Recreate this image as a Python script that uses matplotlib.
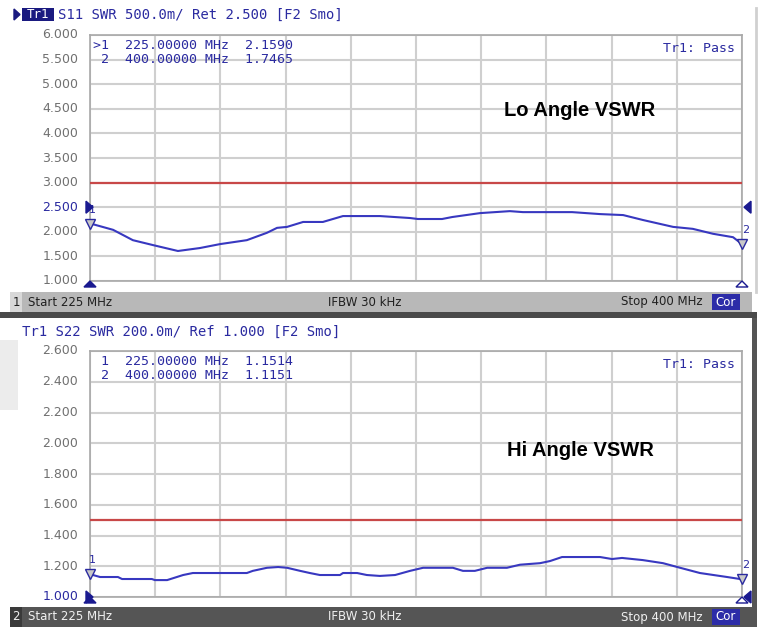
import matplotlib
matplotlib.use('Agg')
import matplotlib.pyplot as plt
from matplotlib.patches import Rectangle, Polygon

# Dados (frequência em MHz, VSWR)
freq_lo = [225.0, 225.5, 231.2, 236.5, 241.9, 248.6, 254.5, 259.9, 267.1, 272.5,
           275.2, 277.9, 282.2, 287.5, 292.9, 302.8, 310.9, 313.0, 319.5, 322.2,
           329.7, 337.7, 341.2, 354.4, 361.9, 368.1, 373.4, 381.5, 386.8, 392.2,
           397.6, 400.0]
vswr_lo = [2.16, 2.16, 2.04, 1.83, 1.73, 1.61, 1.67, 1.75, 1.83, 1.98,
           2.08, 2.10, 2.20, 2.20, 2.32, 2.32, 2.28, 2.26, 2.26, 2.30,
           2.38, 2.42, 2.40, 2.40, 2.36, 2.34, 2.24, 2.10, 2.06, 1.96,
           1.89, 1.75]

freq_hi = [225.0, 225.8, 227.7, 232.5, 233.6, 241.6, 242.4, 245.7, 250.0, 252.6,
           267.1, 268.7, 272.5, 275.5, 277.9, 281.4, 284.0, 286.7, 292.1, 292.9,
           296.7, 299.3, 302.8, 306.9, 310.9, 314.4, 322.4, 325.1, 328.3, 331.6,
           336.9, 340.4, 345.8, 348.5, 351.7, 361.9, 365.1, 367.8, 373.4, 378.8,
           383.4, 388.7, 396.0, 400.0]
vswr_hi = [1.151, 1.143, 1.13, 1.13, 1.117, 1.117, 1.11, 1.11, 1.143, 1.156,
           1.156, 1.17, 1.19, 1.195, 1.19, 1.17, 1.156, 1.143, 1.143, 1.156,
           1.156, 1.143, 1.137, 1.143, 1.17, 1.19, 1.19, 1.17, 1.17, 1.19,
           1.19, 1.21, 1.22, 1.234, 1.26, 1.26, 1.247, 1.254, 1.24, 1.22,
           1.19, 1.156, 1.13, 1.115]

limite_lo = 3.0
limite_hi = 1.5
yticks_lo = [1.0, 1.5, 2.0, 2.5, 3.0, 3.5, 4.0, 4.5, 5.0, 5.5, 6.0]
yticks_hi = [1.0, 1.2, 1.4, 1.6, 1.8, 2.0, 2.2, 2.4, 2.6]

W, H = 763, 627
AZUL = '#3838c0'
AZUL_TXT = '#2a2aa0'
VERMELHO = '#c84848'
MONO = 'DejaVu Sans Mono'

fig = plt.figure(figsize=(W / 100, H / 100), dpi=100)
fig.patch.set_facecolor('white')

# eixo de fundo em pixels para decorações
bg = fig.add_axes([0, 0, 1, 1])
bg.set_xlim(0, W)
bg.set_ylim(H, 0)
bg.axis('off')


def add_px_axes(x0, y0, x1, y1):
    return fig.add_axes([x0 / W, (H - y1) / H, (x1 - x0) / W, (y1 - y0) / H])


# moldura direita / área inferior
bg.add_patch(Rectangle((752, 318), 5, 309, color='#555555', lw=0))
bg.plot([756, 756], [8, 292], color='#d0d0d0', lw=2)
bg.add_patch(Rectangle((0, 340), 18, 70, color='#ececec', lw=0))

# barras de status
bg.add_patch(Rectangle((10, 292), 742, 20, color='#b8b8b8', lw=0))
bg.add_patch(Rectangle((10, 292), 12, 20, color='#d8d8d8', lw=0))
bg.add_patch(Rectangle((0, 312), 757, 6, color='#4a4a4a', lw=0))
bg.add_patch(Rectangle((10, 607), 742, 20, color='#555555', lw=0))
bg.add_patch(Rectangle((10, 607), 12, 20, color='#3a3a3a', lw=0))

for yb, col_txt, num in [(302, '#202020', '1'), (617, '#f0f0f0', '2')]:
    bg.text(16, yb, num, fontsize=8.5, color=col_txt, ha='center', va='center')
    bg.text(28, yb, 'Start 225 MHz', fontsize=8.5, color=col_txt, va='center')
    bg.text(365, yb, 'IFBW 30 kHz', fontsize=8.5, color=col_txt, ha='center', va='center')
    bg.text(703, yb, 'Stop 400 MHz', fontsize=8.5, color=col_txt, ha='right', va='center')
    bg.add_patch(Rectangle((712, yb - 8), 28, 16, color='#2c2ca8', lw=0))
    bg.text(726, yb, 'Cor', fontsize=8.5, color='white', ha='center', va='center')

# cabeçalhos
bg.add_patch(Polygon([[14, 9], [14, 20], [20, 14.5]], closed=True, color='#1a1a80'))
bg.add_patch(Rectangle((22, 8), 32, 13, color='#1a1a80', lw=0))
bg.text(38, 14.5, 'Tr1', family=MONO, fontsize=9, color='white', ha='center', va='center')
bg.text(58, 14.5, 'S11 SWR 500.0m/ Ret 2.500 [F2 Smo]', family=MONO, fontsize=10,
        color=AZUL_TXT, va='center')
bg.text(22, 332, 'Tr1 S22 SWR 200.0m/ Ref 1.000 [F2 Smo]', family=MONO, fontsize=10,
        color=AZUL_TXT, va='center')

paineis = [
    dict(box=(90, 35, 742, 281), f=freq_lo, v=vswr_lo, lim=limite_lo,
         ticks=yticks_lo, ref=2.5,
         marc=['>1  225.00000 MHz  2.1590', ' 2  400.00000 MHz  1.7465'],
         titulo='Lo Angle VSWR', ty=110),
    dict(box=(90, 351, 742, 597), f=freq_hi, v=vswr_hi, lim=limite_hi,
         ticks=yticks_hi, ref=1.0,
         marc=[' 1  225.00000 MHz  1.1514', ' 2  400.00000 MHz  1.1151'],
         titulo='Hi Angle VSWR', ty=450),
]

eixos = []
for p in paineis:
    ax = add_px_axes(*p['box'])
    eixos.append(ax)
    ax.set_xlim(225, 400)
    ax.set_ylim(p['ticks'][0], p['ticks'][-1])
    ax.set_xticks([225 + 17.5 * i for i in range(11)])
    ax.set_yticks(p['ticks'])
    ax.grid(True, color='#cfcfcf', lw=1.5)
    ax.tick_params(length=0, labelbottom=False, labelleft=False)
    for s in ax.spines.values():
        s.set_color('#a8a8a8')
        s.set_linewidth(1.2)
    ax.axhline(p['lim'], color=VERMELHO, lw=1.6, zorder=3)
    ax.plot(p['f'], p['v'], color=AZUL, lw=1.5, zorder=4, clip_on=False)

    # rótulos do eixo y
    for t in p['ticks']:
        ax.text(-0.018, (t - p['ticks'][0]) / (p['ticks'][-1] - p['ticks'][0]),
                '{:.3f}'.format(t), transform=ax.transAxes, ha='right', va='center',
                fontsize=9, color=AZUL_TXT if t == p['ref'] else '#707070')

    ax.text(0.005, 0.985, p['marc'][0], transform=ax.transAxes, family=MONO,
            fontsize=9.5, color=AZUL_TXT, va='top')
    ax.text(0.005, 0.925, p['marc'][1], transform=ax.transAxes, family=MONO,
            fontsize=9.5, color=AZUL_TXT, va='top')
    ax.text(0.99, 0.97, 'Tr1: Pass', transform=ax.transAxes, family=MONO,
            fontsize=9.5, color=AZUL_TXT, ha='right', va='top')

# camada superior transparente para títulos e marcadores
fr = fig.add_axes([0, 0, 1, 1], zorder=10)
fr.set_xlim(0, W)
fr.set_ylim(H, 0)
fr.axis('off')
fr.patch.set_alpha(0)

for p, ax in zip(paineis, eixos):
    x0, y0, x1, y1 = p['box']
    fr.text(580, p['ty'], p['titulo'], fontsize=14.5, fontweight='bold',
            family='Liberation Sans', color='black', ha='center', va='center')

    # marcadores de nível de referência e estímulo
    yr = y1 - (p['ref'] - p['ticks'][0]) / (p['ticks'][-1] - p['ticks'][0]) * (y1 - y0)
    fr.add_patch(Polygon([[x0 - 4, yr - 6], [x0 - 4, yr + 6], [x0 + 3, yr]],
                         closed=True, color='#1a1a90'))
    fr.add_patch(Polygon([[x1 + 9, yr - 6], [x1 + 9, yr + 6], [x1 + 2, yr]],
                         closed=True, color='#1a1a90'))
    fr.add_patch(Polygon([[x0 - 6, y1 + 6], [x0 + 6, y1 + 6], [x0, y1]],
                         closed=True, color='#1a1a90'))
    fr.add_patch(Polygon([[x1 - 6, y1 + 6], [x1 + 6, y1 + 6], [x1, y1]],
                         closed=True, fc='white', ec='#1a1a90', lw=1))

    # marcadores 1 e 2 nas extremidades
    for fx, vy, lab in [(225, p['v'][0], '1'), (400, p['v'][-1], '2')]:
        ax.plot([fx], [vy], marker='v', ms=7, mfc='#c8c8c8', mec=AZUL_TXT,
                clip_on=False, zorder=6)
        ax.annotate(lab, (fx, vy), xytext=(3 if fx == 400 else 2, 8),
                    textcoords='offset points', fontsize=8, color=AZUL_TXT,
                    ha='center', annotation_clip=False)

fig.savefig('out.png', dpi=100)
